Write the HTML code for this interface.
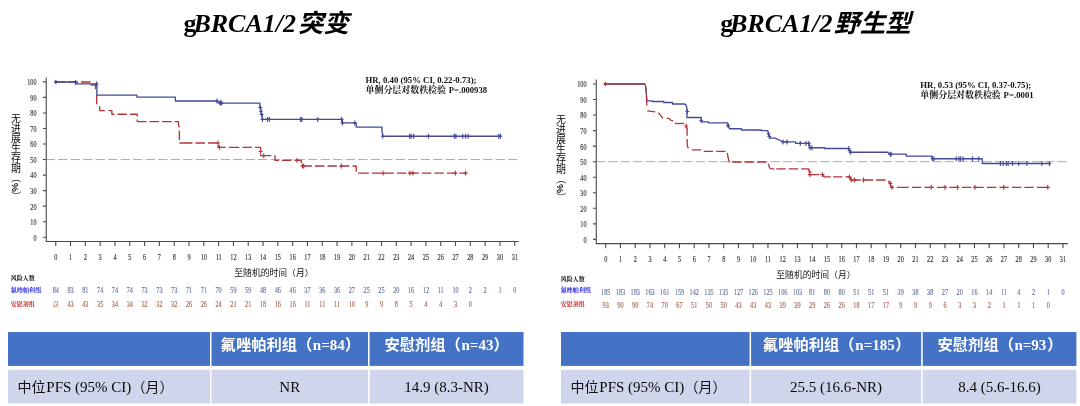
<!DOCTYPE html>
<html><head><meta charset="utf-8"><title>PFS</title>
<style>html,body{margin:0;padding:0;background:#fff;overflow:hidden}svg{display:block;will-change:transform}text{font-family:"Liberation Serif",serif;white-space:pre}</style></head>
<body>
<svg width="1080" height="406" viewBox="0 0 1080 406">
<rect width="1080" height="406" fill="#fff"/>
<path d="M45.60,159.55H517.50" stroke="#acacac" stroke-width="1" stroke-dasharray="9.4 3.1" fill="none"/>
<path d="M46.25,77.50V241.50H518.75M42.95,237.25H46.25M42.95,221.71H46.25M42.95,206.17H46.25M42.95,190.63H46.25M42.95,175.09H46.25M42.95,159.55H46.25M42.95,144.01H46.25M42.95,128.47H46.25M42.95,112.93H46.25M42.95,97.39H46.25M42.95,81.85H46.25M55.75,241.50V246.10M70.56,241.50V246.10M85.36,241.50V246.10M100.17,241.50V246.10M114.97,241.50V246.10M129.78,241.50V246.10M144.59,241.50V246.10M159.39,241.50V246.10M174.20,241.50V246.10M189.00,241.50V246.10M203.81,241.50V246.10M218.62,241.50V246.10M233.42,241.50V246.10M248.23,241.50V246.10M263.03,241.50V246.10M277.84,241.50V246.10M292.65,241.50V246.10M307.45,241.50V246.10M322.26,241.50V246.10M337.06,241.50V246.10M351.87,241.50V246.10M366.68,241.50V246.10M381.48,241.50V246.10M396.29,241.50V246.10M411.09,241.50V246.10M425.90,241.50V246.10M440.71,241.50V246.10M455.51,241.50V246.10M470.32,241.50V246.10M485.12,241.50V246.10M499.93,241.50V246.10M514.74,241.50V246.10" stroke="#4a4a4a" stroke-width="1.1" fill="none"/>
<text transform="translate(36.55,240.65) scale(0.78,1)" font-size="8" fill="#383838" text-anchor="end" stroke="#383838" stroke-width="0.16">0</text>
<text transform="translate(36.55,225.11) scale(0.78,1)" font-size="8" fill="#383838" text-anchor="end" stroke="#383838" stroke-width="0.16">10</text>
<text transform="translate(36.55,209.57) scale(0.78,1)" font-size="8" fill="#383838" text-anchor="end" stroke="#383838" stroke-width="0.16">20</text>
<text transform="translate(36.55,194.03) scale(0.78,1)" font-size="8" fill="#383838" text-anchor="end" stroke="#383838" stroke-width="0.16">30</text>
<text transform="translate(36.55,178.49) scale(0.78,1)" font-size="8" fill="#383838" text-anchor="end" stroke="#383838" stroke-width="0.16">40</text>
<text transform="translate(36.55,162.95) scale(0.78,1)" font-size="8" fill="#383838" text-anchor="end" stroke="#383838" stroke-width="0.16">50</text>
<text transform="translate(36.55,147.41) scale(0.78,1)" font-size="8" fill="#383838" text-anchor="end" stroke="#383838" stroke-width="0.16">60</text>
<text transform="translate(36.55,131.87) scale(0.78,1)" font-size="8" fill="#383838" text-anchor="end" stroke="#383838" stroke-width="0.16">70</text>
<text transform="translate(36.55,116.33) scale(0.78,1)" font-size="8" fill="#383838" text-anchor="end" stroke="#383838" stroke-width="0.16">80</text>
<text transform="translate(36.55,100.79) scale(0.78,1)" font-size="8" fill="#383838" text-anchor="end" stroke="#383838" stroke-width="0.16">90</text>
<text transform="translate(36.55,85.25) scale(0.78,1)" font-size="8" fill="#383838" text-anchor="end" stroke="#383838" stroke-width="0.16">100</text>
<text transform="translate(55.75,259.90) scale(0.78,1)" font-size="8" fill="#383838" text-anchor="middle" stroke="#383838" stroke-width="0.16">0</text>
<text transform="translate(70.56,259.90) scale(0.78,1)" font-size="8" fill="#383838" text-anchor="middle" stroke="#383838" stroke-width="0.16">1</text>
<text transform="translate(85.36,259.90) scale(0.78,1)" font-size="8" fill="#383838" text-anchor="middle" stroke="#383838" stroke-width="0.16">2</text>
<text transform="translate(100.17,259.90) scale(0.78,1)" font-size="8" fill="#383838" text-anchor="middle" stroke="#383838" stroke-width="0.16">3</text>
<text transform="translate(114.97,259.90) scale(0.78,1)" font-size="8" fill="#383838" text-anchor="middle" stroke="#383838" stroke-width="0.16">4</text>
<text transform="translate(129.78,259.90) scale(0.78,1)" font-size="8" fill="#383838" text-anchor="middle" stroke="#383838" stroke-width="0.16">5</text>
<text transform="translate(144.59,259.90) scale(0.78,1)" font-size="8" fill="#383838" text-anchor="middle" stroke="#383838" stroke-width="0.16">6</text>
<text transform="translate(159.39,259.90) scale(0.78,1)" font-size="8" fill="#383838" text-anchor="middle" stroke="#383838" stroke-width="0.16">7</text>
<text transform="translate(174.20,259.90) scale(0.78,1)" font-size="8" fill="#383838" text-anchor="middle" stroke="#383838" stroke-width="0.16">8</text>
<text transform="translate(189.00,259.90) scale(0.78,1)" font-size="8" fill="#383838" text-anchor="middle" stroke="#383838" stroke-width="0.16">9</text>
<text transform="translate(203.81,259.90) scale(0.78,1)" font-size="8" fill="#383838" text-anchor="middle" stroke="#383838" stroke-width="0.16">10</text>
<text transform="translate(218.62,259.90) scale(0.78,1)" font-size="8" fill="#383838" text-anchor="middle" stroke="#383838" stroke-width="0.16">11</text>
<text transform="translate(233.42,259.90) scale(0.78,1)" font-size="8" fill="#383838" text-anchor="middle" stroke="#383838" stroke-width="0.16">12</text>
<text transform="translate(248.23,259.90) scale(0.78,1)" font-size="8" fill="#383838" text-anchor="middle" stroke="#383838" stroke-width="0.16">13</text>
<text transform="translate(263.03,259.90) scale(0.78,1)" font-size="8" fill="#383838" text-anchor="middle" stroke="#383838" stroke-width="0.16">14</text>
<text transform="translate(277.84,259.90) scale(0.78,1)" font-size="8" fill="#383838" text-anchor="middle" stroke="#383838" stroke-width="0.16">15</text>
<text transform="translate(292.65,259.90) scale(0.78,1)" font-size="8" fill="#383838" text-anchor="middle" stroke="#383838" stroke-width="0.16">16</text>
<text transform="translate(307.45,259.90) scale(0.78,1)" font-size="8" fill="#383838" text-anchor="middle" stroke="#383838" stroke-width="0.16">17</text>
<text transform="translate(322.26,259.90) scale(0.78,1)" font-size="8" fill="#383838" text-anchor="middle" stroke="#383838" stroke-width="0.16">18</text>
<text transform="translate(337.06,259.90) scale(0.78,1)" font-size="8" fill="#383838" text-anchor="middle" stroke="#383838" stroke-width="0.16">19</text>
<text transform="translate(351.87,259.90) scale(0.78,1)" font-size="8" fill="#383838" text-anchor="middle" stroke="#383838" stroke-width="0.16">20</text>
<text transform="translate(366.68,259.90) scale(0.78,1)" font-size="8" fill="#383838" text-anchor="middle" stroke="#383838" stroke-width="0.16">21</text>
<text transform="translate(381.48,259.90) scale(0.78,1)" font-size="8" fill="#383838" text-anchor="middle" stroke="#383838" stroke-width="0.16">22</text>
<text transform="translate(396.29,259.90) scale(0.78,1)" font-size="8" fill="#383838" text-anchor="middle" stroke="#383838" stroke-width="0.16">23</text>
<text transform="translate(411.09,259.90) scale(0.78,1)" font-size="8" fill="#383838" text-anchor="middle" stroke="#383838" stroke-width="0.16">24</text>
<text transform="translate(425.90,259.90) scale(0.78,1)" font-size="8" fill="#383838" text-anchor="middle" stroke="#383838" stroke-width="0.16">25</text>
<text transform="translate(440.71,259.90) scale(0.78,1)" font-size="8" fill="#383838" text-anchor="middle" stroke="#383838" stroke-width="0.16">26</text>
<text transform="translate(455.51,259.90) scale(0.78,1)" font-size="8" fill="#383838" text-anchor="middle" stroke="#383838" stroke-width="0.16">27</text>
<text transform="translate(470.32,259.90) scale(0.78,1)" font-size="8" fill="#383838" text-anchor="middle" stroke="#383838" stroke-width="0.16">28</text>
<text transform="translate(485.12,259.90) scale(0.78,1)" font-size="8" fill="#383838" text-anchor="middle" stroke="#383838" stroke-width="0.16">29</text>
<text transform="translate(499.93,259.90) scale(0.78,1)" font-size="8" fill="#383838" text-anchor="middle" stroke="#383838" stroke-width="0.16">30</text>
<text transform="translate(514.74,259.90) scale(0.78,1)" font-size="8" fill="#383838" text-anchor="middle" stroke="#383838" stroke-width="0.16">31</text>
<g stroke="#b2353a" stroke-width="1.35" fill="none" stroke-dasharray="9.4 3.1" stroke-linejoin="round"><path d="M56,82H90.2V85H95.6V90H96.7V91.9"/><path d="M96.7,94.9V104.3"/><path d="M99.7,106.3V110.6H105.5"/><path d="M108.6,110.6H111.9V114.2H137.2V121.6"/><path d="M137.2,121.6H178.2L179.4,130V143H183.1"/><path d="M183.1,143H218.1V147.3H230"/><path d="M230,147.3H260.6V155.6H261.9"/><path d="M261.9,155.6H275V160.4H281.9"/><path d="M281.9,160.4H301.2V166H302.5"/><path d="M302.5,166H356.2V173.1H359.4"/><path d="M359.4,173.1H466"/></g>
<path d="M56,82H75.6V83.8H96.9V95.1H136.9V97.2H175.4V101H217.4V102.1H219.4V103.1H259.9V107.5H260.6V111.2H261.3V114.4H262.2V119.4H342.3V122.9H356.2V127.1H382V131L382.8,136.25H501.25" stroke="#434a98" stroke-width="1.3" fill="none" stroke-linejoin="round"/>
<path d="M75.50,79.90V84.90M96.60,81.30V86.30M217.00,98.50V103.50M220.00,100.60V105.60M220.80,100.60V105.60M221.60,100.60V105.60M260.30,105.00V110.00M261.00,108.70V113.70M261.60,111.90V116.90M262.50,116.90V121.90M267.50,116.90V121.90M269.40,116.90V121.90M300.60,116.90V121.90M301.90,116.90V121.90M317.75,116.90V121.90M341.60,116.90V121.90M342.50,120.40V125.40M354.75,120.40V125.40M382.80,133.75V138.75M409.75,133.75V138.75M411.00,133.75V138.75M413.50,133.75V138.75M428.40,133.75V138.75M454.40,133.75V138.75M455.90,133.75V138.75M462.75,133.75V138.75M465.60,133.75V138.75M468.10,133.75V138.75M498.75,133.75V138.75M500.40,133.75V138.75" stroke="#434a98" stroke-width="1.1" fill="none"/>
<path d="M73.60,82.40H77.40M94.70,83.80H98.50M215.10,101.00H218.90M218.10,103.10H221.90M218.90,103.10H222.70M219.70,103.10H223.50M258.40,107.50H262.20M259.10,111.20H262.90M259.70,114.40H263.50M260.60,119.40H264.40M265.60,119.40H269.40M267.50,119.40H271.30M298.70,119.40H302.50M300.00,119.40H303.80M315.85,119.40H319.65M339.70,119.40H343.50M340.60,122.90H344.40M352.85,122.90H356.65M380.90,136.25H384.70M407.85,136.25H411.65M409.10,136.25H412.90M411.60,136.25H415.40M426.50,136.25H430.30M452.50,136.25H456.30M454.00,136.25H457.80M460.85,136.25H464.65M463.70,136.25H467.50M466.20,136.25H470.00M496.85,136.25H500.65M498.50,136.25H502.30" stroke="#434a98" stroke-width="1.1" fill="none"/>
<path d="M218.00,140.60V145.40M219.40,144.90V149.70M260.60,149.10V153.90M263.75,153.20V158.00M297.00,158.00V162.80M302.50,163.60V168.40M303.75,163.60V168.40M341.25,163.60V168.40M383.10,170.70V175.50M410.00,170.70V175.50M412.90,170.70V175.50M455.40,170.70V175.50M465.60,170.70V175.50" stroke="#b2353a" stroke-width="1.1" fill="none"/>
<path d="M216.00,143.00H220.00M217.40,147.30H221.40M258.60,151.50H262.60M261.75,155.60H265.75M295.00,160.40H299.00M300.50,166.00H304.50M301.75,166.00H305.75M339.25,166.00H343.25M381.10,173.10H385.10M408.00,173.10H412.00M410.90,173.10H414.90M453.40,173.10H457.40M463.60,173.10H467.60" stroke="#b2353a" stroke-width="1.2" fill="none"/>
<path d="M53.80,82.00L56.00,79.40L57.20,82.00L56.00,84.60Z" fill="#3d4c9f"/>
<text transform="translate(55.75,292.70) scale(0.78,1)" font-size="8" fill="#66729d" text-anchor="middle" stroke="#66729d" stroke-width="0.15">84</text>
<text transform="translate(70.56,292.70) scale(0.78,1)" font-size="8" fill="#66729d" text-anchor="middle" stroke="#66729d" stroke-width="0.15">83</text>
<text transform="translate(85.36,292.70) scale(0.78,1)" font-size="8" fill="#66729d" text-anchor="middle" stroke="#66729d" stroke-width="0.15">81</text>
<text transform="translate(100.17,292.70) scale(0.78,1)" font-size="8" fill="#66729d" text-anchor="middle" stroke="#66729d" stroke-width="0.15">74</text>
<text transform="translate(114.97,292.70) scale(0.78,1)" font-size="8" fill="#66729d" text-anchor="middle" stroke="#66729d" stroke-width="0.15">74</text>
<text transform="translate(129.78,292.70) scale(0.78,1)" font-size="8" fill="#66729d" text-anchor="middle" stroke="#66729d" stroke-width="0.15">74</text>
<text transform="translate(144.59,292.70) scale(0.78,1)" font-size="8" fill="#66729d" text-anchor="middle" stroke="#66729d" stroke-width="0.15">73</text>
<text transform="translate(159.39,292.70) scale(0.78,1)" font-size="8" fill="#66729d" text-anchor="middle" stroke="#66729d" stroke-width="0.15">73</text>
<text transform="translate(174.20,292.70) scale(0.78,1)" font-size="8" fill="#66729d" text-anchor="middle" stroke="#66729d" stroke-width="0.15">73</text>
<text transform="translate(189.00,292.70) scale(0.78,1)" font-size="8" fill="#66729d" text-anchor="middle" stroke="#66729d" stroke-width="0.15">71</text>
<text transform="translate(203.81,292.70) scale(0.78,1)" font-size="8" fill="#66729d" text-anchor="middle" stroke="#66729d" stroke-width="0.15">71</text>
<text transform="translate(218.62,292.70) scale(0.78,1)" font-size="8" fill="#66729d" text-anchor="middle" stroke="#66729d" stroke-width="0.15">70</text>
<text transform="translate(233.42,292.70) scale(0.78,1)" font-size="8" fill="#66729d" text-anchor="middle" stroke="#66729d" stroke-width="0.15">59</text>
<text transform="translate(248.23,292.70) scale(0.78,1)" font-size="8" fill="#66729d" text-anchor="middle" stroke="#66729d" stroke-width="0.15">59</text>
<text transform="translate(263.03,292.70) scale(0.78,1)" font-size="8" fill="#66729d" text-anchor="middle" stroke="#66729d" stroke-width="0.15">48</text>
<text transform="translate(277.84,292.70) scale(0.78,1)" font-size="8" fill="#66729d" text-anchor="middle" stroke="#66729d" stroke-width="0.15">46</text>
<text transform="translate(292.65,292.70) scale(0.78,1)" font-size="8" fill="#66729d" text-anchor="middle" stroke="#66729d" stroke-width="0.15">46</text>
<text transform="translate(307.45,292.70) scale(0.78,1)" font-size="8" fill="#66729d" text-anchor="middle" stroke="#66729d" stroke-width="0.15">37</text>
<text transform="translate(322.26,292.70) scale(0.78,1)" font-size="8" fill="#66729d" text-anchor="middle" stroke="#66729d" stroke-width="0.15">36</text>
<text transform="translate(337.06,292.70) scale(0.78,1)" font-size="8" fill="#66729d" text-anchor="middle" stroke="#66729d" stroke-width="0.15">36</text>
<text transform="translate(351.87,292.70) scale(0.78,1)" font-size="8" fill="#66729d" text-anchor="middle" stroke="#66729d" stroke-width="0.15">27</text>
<text transform="translate(366.68,292.70) scale(0.78,1)" font-size="8" fill="#66729d" text-anchor="middle" stroke="#66729d" stroke-width="0.15">25</text>
<text transform="translate(381.48,292.70) scale(0.78,1)" font-size="8" fill="#66729d" text-anchor="middle" stroke="#66729d" stroke-width="0.15">25</text>
<text transform="translate(396.29,292.70) scale(0.78,1)" font-size="8" fill="#66729d" text-anchor="middle" stroke="#66729d" stroke-width="0.15">20</text>
<text transform="translate(411.09,292.70) scale(0.78,1)" font-size="8" fill="#66729d" text-anchor="middle" stroke="#66729d" stroke-width="0.15">16</text>
<text transform="translate(425.90,292.70) scale(0.78,1)" font-size="8" fill="#66729d" text-anchor="middle" stroke="#66729d" stroke-width="0.15">12</text>
<text transform="translate(440.71,292.70) scale(0.78,1)" font-size="8" fill="#66729d" text-anchor="middle" stroke="#66729d" stroke-width="0.15">11</text>
<text transform="translate(455.51,292.70) scale(0.78,1)" font-size="8" fill="#66729d" text-anchor="middle" stroke="#66729d" stroke-width="0.15">10</text>
<text transform="translate(470.32,292.70) scale(0.78,1)" font-size="8" fill="#66729d" text-anchor="middle" stroke="#66729d" stroke-width="0.15">2</text>
<text transform="translate(485.12,292.70) scale(0.78,1)" font-size="8" fill="#66729d" text-anchor="middle" stroke="#66729d" stroke-width="0.15">2</text>
<text transform="translate(499.93,292.70) scale(0.78,1)" font-size="8" fill="#66729d" text-anchor="middle" stroke="#66729d" stroke-width="0.15">1</text>
<text transform="translate(514.74,292.70) scale(0.78,1)" font-size="8" fill="#66729d" text-anchor="middle" stroke="#66729d" stroke-width="0.15">0</text>
<text transform="translate(55.75,306.70) scale(0.78,1)" font-size="8" fill="#a86355" text-anchor="middle" stroke="#a86355" stroke-width="0.15">i3</text>
<text transform="translate(70.56,306.70) scale(0.78,1)" font-size="8" fill="#a86355" text-anchor="middle" stroke="#a86355" stroke-width="0.15">43</text>
<text transform="translate(85.36,306.70) scale(0.78,1)" font-size="8" fill="#a86355" text-anchor="middle" stroke="#a86355" stroke-width="0.15">43</text>
<text transform="translate(100.17,306.70) scale(0.78,1)" font-size="8" fill="#a86355" text-anchor="middle" stroke="#a86355" stroke-width="0.15">35</text>
<text transform="translate(114.97,306.70) scale(0.78,1)" font-size="8" fill="#a86355" text-anchor="middle" stroke="#a86355" stroke-width="0.15">34</text>
<text transform="translate(129.78,306.70) scale(0.78,1)" font-size="8" fill="#a86355" text-anchor="middle" stroke="#a86355" stroke-width="0.15">34</text>
<text transform="translate(144.59,306.70) scale(0.78,1)" font-size="8" fill="#a86355" text-anchor="middle" stroke="#a86355" stroke-width="0.15">32</text>
<text transform="translate(159.39,306.70) scale(0.78,1)" font-size="8" fill="#a86355" text-anchor="middle" stroke="#a86355" stroke-width="0.15">32</text>
<text transform="translate(174.20,306.70) scale(0.78,1)" font-size="8" fill="#a86355" text-anchor="middle" stroke="#a86355" stroke-width="0.15">32</text>
<text transform="translate(189.00,306.70) scale(0.78,1)" font-size="8" fill="#a86355" text-anchor="middle" stroke="#a86355" stroke-width="0.15">26</text>
<text transform="translate(203.81,306.70) scale(0.78,1)" font-size="8" fill="#a86355" text-anchor="middle" stroke="#a86355" stroke-width="0.15">26</text>
<text transform="translate(218.62,306.70) scale(0.78,1)" font-size="8" fill="#a86355" text-anchor="middle" stroke="#a86355" stroke-width="0.15">24</text>
<text transform="translate(233.42,306.70) scale(0.78,1)" font-size="8" fill="#a86355" text-anchor="middle" stroke="#a86355" stroke-width="0.15">21</text>
<text transform="translate(248.23,306.70) scale(0.78,1)" font-size="8" fill="#a86355" text-anchor="middle" stroke="#a86355" stroke-width="0.15">21</text>
<text transform="translate(263.03,306.70) scale(0.78,1)" font-size="8" fill="#a86355" text-anchor="middle" stroke="#a86355" stroke-width="0.15">18</text>
<text transform="translate(277.84,306.70) scale(0.78,1)" font-size="8" fill="#a86355" text-anchor="middle" stroke="#a86355" stroke-width="0.15">16</text>
<text transform="translate(292.65,306.70) scale(0.78,1)" font-size="8" fill="#a86355" text-anchor="middle" stroke="#a86355" stroke-width="0.15">16</text>
<text transform="translate(307.45,306.70) scale(0.78,1)" font-size="8" fill="#a86355" text-anchor="middle" stroke="#a86355" stroke-width="0.15">11</text>
<text transform="translate(322.26,306.70) scale(0.78,1)" font-size="8" fill="#a86355" text-anchor="middle" stroke="#a86355" stroke-width="0.15">11</text>
<text transform="translate(337.06,306.70) scale(0.78,1)" font-size="8" fill="#a86355" text-anchor="middle" stroke="#a86355" stroke-width="0.15">11</text>
<text transform="translate(351.87,306.70) scale(0.78,1)" font-size="8" fill="#a86355" text-anchor="middle" stroke="#a86355" stroke-width="0.15">10</text>
<text transform="translate(366.68,306.70) scale(0.78,1)" font-size="8" fill="#a86355" text-anchor="middle" stroke="#a86355" stroke-width="0.15">9</text>
<text transform="translate(381.48,306.70) scale(0.78,1)" font-size="8" fill="#a86355" text-anchor="middle" stroke="#a86355" stroke-width="0.15">9</text>
<text transform="translate(396.29,306.70) scale(0.78,1)" font-size="8" fill="#a86355" text-anchor="middle" stroke="#a86355" stroke-width="0.15">8</text>
<text transform="translate(411.09,306.70) scale(0.78,1)" font-size="8" fill="#a86355" text-anchor="middle" stroke="#a86355" stroke-width="0.15">5</text>
<text transform="translate(425.90,306.70) scale(0.78,1)" font-size="8" fill="#a86355" text-anchor="middle" stroke="#a86355" stroke-width="0.15">4</text>
<text transform="translate(440.71,306.70) scale(0.78,1)" font-size="8" fill="#a86355" text-anchor="middle" stroke="#a86355" stroke-width="0.15">4</text>
<text transform="translate(455.51,306.70) scale(0.78,1)" font-size="8" fill="#a86355" text-anchor="middle" stroke="#a86355" stroke-width="0.15">3</text>
<text transform="translate(470.32,306.70) scale(0.78,1)" font-size="8" fill="#a86355" text-anchor="middle" stroke="#a86355" stroke-width="0.15">0</text>
<text x="183.60" y="31.80" font-size="26" fill="#000" font-weight="bold" >g</text>
<text x="193.40" y="31.80" font-size="26" fill="#000" font-weight="bold" font-style="italic" >BRCA1/2</text>
<text x="298" y="31.8" font-size="25" fill="#000" font-weight="bold" font-style="italic" textLength="51" lengthAdjust="spacingAndGlyphs" style="font-family:'Liberation Sans','Noto Sans CJK SC',sans-serif">突变</text>
<text x="365.50" y="82.60" font-size="8.6" fill="#111" font-weight="bold" textLength="111" lengthAdjust="spacingAndGlyphs" >HR, 0.40 (95% CI, 0.22-0.73);</text>
<text x="365.5" y="92.6" font-size="8.9" fill="#111" font-weight="bold" textLength="80.5" lengthAdjust="spacingAndGlyphs" style="font-family:'Liberation Serif','Noto Serif CJK SC',serif">单侧分层对数秩检验</text>
<text x="448.83" y="92.60" font-size="8.6" fill="#111" font-weight="bold" textLength="38.2" lengthAdjust="spacingAndGlyphs" >P=.000938</text>
<text x="11" y="121.8" font-size="9.9" fill="#0a0a0a" style="font-family:'Liberation Sans','Noto Sans CJK SC',sans-serif">无</text>
<text x="11" y="131.8" font-size="9.9" fill="#0a0a0a" style="font-family:'Liberation Sans','Noto Sans CJK SC',sans-serif">进</text>
<text x="11" y="141.8" font-size="9.9" fill="#0a0a0a" style="font-family:'Liberation Sans','Noto Sans CJK SC',sans-serif">展</text>
<text x="11" y="151.7" font-size="9.9" fill="#0a0a0a" style="font-family:'Liberation Sans','Noto Sans CJK SC',sans-serif">生</text>
<text x="11" y="161.7" font-size="9.9" fill="#0a0a0a" style="font-family:'Liberation Sans','Noto Sans CJK SC',sans-serif">存</text>
<text x="11" y="171.7" font-size="9.9" fill="#0a0a0a" style="font-family:'Liberation Sans','Noto Sans CJK SC',sans-serif">期</text>
<text transform="translate(11.90,172.70) rotate(90)" font-size="10" fill="#111" style="font-family:'Liberation Sans','Noto Sans CJK SC',sans-serif">（</text>
<text transform="translate(12.00,183.00) rotate(90)" font-size="9.9" fill="#111" stroke="#111" stroke-width="0.25" style="font-family:'Liberation Sans',sans-serif">%</text>
<text transform="translate(11.90,191.00) rotate(90)" font-size="10" fill="#111" style="font-family:'Liberation Sans','Noto Sans CJK SC',sans-serif">）</text>
<text x="234.3" y="276.1" font-size="8.8" fill="#111" textLength="79.2" lengthAdjust="spacingAndGlyphs" style="font-family:'Liberation Sans','Noto Sans CJK SC',sans-serif">至随机的时间（月）</text>
<text x="10.8" y="280.3" font-size="6" fill="#000" font-weight="bold" style="font-family:'Liberation Serif','Noto Serif CJK SC',serif">风险人数</text>
<text x="10.8" y="292.1" font-size="6.1" fill="#2020e0" font-weight="bold" style="font-family:'Liberation Serif','Noto Serif CJK SC',serif">氟唑帕利组</text>
<text x="10.8" y="305.6" font-size="6" fill="#d02020" font-weight="bold" style="font-family:'Liberation Serif','Noto Serif CJK SC',serif">安慰剂组</text>
<rect x="8" y="332" width="202.00" height="33.9" fill="#4472c4"/>
<rect x="8" y="369.8" width="202.00" height="33.7" fill="#cfd5ea"/>
<rect x="211.5" y="332" width="156.50" height="33.9" fill="#4472c4"/>
<rect x="211.5" y="369.8" width="156.50" height="33.7" fill="#cfd5ea"/>
<rect x="369.6" y="332" width="153.90" height="33.9" fill="#4472c4"/>
<rect x="369.6" y="369.8" width="153.90" height="33.7" fill="#cfd5ea"/>
<text x="17.6" y="391.6" font-size="14" fill="#111" style="font-family:'Liberation Sans','Noto Sans CJK SC',sans-serif">中位</text>
<text x="46.30" y="391.60" font-size="15" fill="#0a0a0a" >PFS (95% CI)</text>
<text x="131.4" y="391.6" font-size="14" fill="#111" style="font-family:'Liberation Sans','Noto Sans CJK SC',sans-serif">（月）</text>
<text x="220.6" y="349.8" font-size="15.3" fill="#fff" font-weight="bold" style="font-family:'Liberation Sans','Noto Sans CJK SC',sans-serif">氟唑帕利组（</text>
<text x="312.80" y="349.80" font-size="15" fill="#fff" font-weight="bold" >n=84</text>
<text x="345" y="349.8" font-size="15.3" fill="#fff" font-weight="bold" style="font-family:'Liberation Sans','Noto Sans CJK SC',sans-serif">）</text>
<text x="384.4" y="349.8" font-size="15.3" fill="#fff" font-weight="bold" style="font-family:'Liberation Sans','Noto Sans CJK SC',sans-serif">安慰剂组（</text>
<text x="461.50" y="349.80" font-size="15" fill="#fff" font-weight="bold" >n=43</text>
<text x="493.6" y="349.8" font-size="15.3" fill="#fff" font-weight="bold" style="font-family:'Liberation Sans','Noto Sans CJK SC',sans-serif">）</text>
<text x="289.75" y="391.60" font-size="15" fill="#0a0a0a" text-anchor="middle" >NR</text>
<text x="446.55" y="391.60" font-size="15" fill="#0a0a0a" text-anchor="middle" >14.9 (8.3-NR)</text>
<path d="M595.90,161.68H1067.00" stroke="#acacac" stroke-width="1" stroke-dasharray="9.37 3.1" fill="none"/>
<path d="M596.25,79.40V243.60H1067.90M592.95,239.40H596.25M592.95,223.86H596.25M592.95,208.31H596.25M592.95,192.77H596.25M592.95,177.22H596.25M592.95,161.68H596.25M592.95,146.13H596.25M592.95,130.59H596.25M592.95,115.04H596.25M592.95,99.50H596.25M592.95,83.95H596.25M605.70,243.60V248.20M620.45,243.60V248.20M635.20,243.60V248.20M649.95,243.60V248.20M664.70,243.60V248.20M679.45,243.60V248.20M694.20,243.60V248.20M708.95,243.60V248.20M723.70,243.60V248.20M738.45,243.60V248.20M753.20,243.60V248.20M767.95,243.60V248.20M782.70,243.60V248.20M797.45,243.60V248.20M812.20,243.60V248.20M826.95,243.60V248.20M841.70,243.60V248.20M856.45,243.60V248.20M871.20,243.60V248.20M885.95,243.60V248.20M900.70,243.60V248.20M915.45,243.60V248.20M930.20,243.60V248.20M944.95,243.60V248.20M959.70,243.60V248.20M974.45,243.60V248.20M989.20,243.60V248.20M1003.95,243.60V248.20M1018.70,243.60V248.20M1033.45,243.60V248.20M1048.20,243.60V248.20M1062.95,243.60V248.20" stroke="#4a4a4a" stroke-width="1.1" fill="none"/>
<text transform="translate(586.55,242.80) scale(0.78,1)" font-size="8" fill="#383838" text-anchor="end" stroke="#383838" stroke-width="0.16">0</text>
<text transform="translate(586.55,227.25) scale(0.78,1)" font-size="8" fill="#383838" text-anchor="end" stroke="#383838" stroke-width="0.16">10</text>
<text transform="translate(586.55,211.71) scale(0.78,1)" font-size="8" fill="#383838" text-anchor="end" stroke="#383838" stroke-width="0.16">20</text>
<text transform="translate(586.55,196.16) scale(0.78,1)" font-size="8" fill="#383838" text-anchor="end" stroke="#383838" stroke-width="0.16">30</text>
<text transform="translate(586.55,180.62) scale(0.78,1)" font-size="8" fill="#383838" text-anchor="end" stroke="#383838" stroke-width="0.16">40</text>
<text transform="translate(586.55,165.07) scale(0.78,1)" font-size="8" fill="#383838" text-anchor="end" stroke="#383838" stroke-width="0.16">50</text>
<text transform="translate(586.55,149.53) scale(0.78,1)" font-size="8" fill="#383838" text-anchor="end" stroke="#383838" stroke-width="0.16">60</text>
<text transform="translate(586.55,133.98) scale(0.78,1)" font-size="8" fill="#383838" text-anchor="end" stroke="#383838" stroke-width="0.16">70</text>
<text transform="translate(586.55,118.44) scale(0.78,1)" font-size="8" fill="#383838" text-anchor="end" stroke="#383838" stroke-width="0.16">80</text>
<text transform="translate(586.55,102.90) scale(0.78,1)" font-size="8" fill="#383838" text-anchor="end" stroke="#383838" stroke-width="0.16">90</text>
<text transform="translate(586.55,87.35) scale(0.78,1)" font-size="8" fill="#383838" text-anchor="end" stroke="#383838" stroke-width="0.16">100</text>
<text transform="translate(605.70,262.00) scale(0.78,1)" font-size="8" fill="#383838" text-anchor="middle" stroke="#383838" stroke-width="0.16">0</text>
<text transform="translate(620.45,262.00) scale(0.78,1)" font-size="8" fill="#383838" text-anchor="middle" stroke="#383838" stroke-width="0.16">1</text>
<text transform="translate(635.20,262.00) scale(0.78,1)" font-size="8" fill="#383838" text-anchor="middle" stroke="#383838" stroke-width="0.16">2</text>
<text transform="translate(649.95,262.00) scale(0.78,1)" font-size="8" fill="#383838" text-anchor="middle" stroke="#383838" stroke-width="0.16">3</text>
<text transform="translate(664.70,262.00) scale(0.78,1)" font-size="8" fill="#383838" text-anchor="middle" stroke="#383838" stroke-width="0.16">4</text>
<text transform="translate(679.45,262.00) scale(0.78,1)" font-size="8" fill="#383838" text-anchor="middle" stroke="#383838" stroke-width="0.16">5</text>
<text transform="translate(694.20,262.00) scale(0.78,1)" font-size="8" fill="#383838" text-anchor="middle" stroke="#383838" stroke-width="0.16">6</text>
<text transform="translate(708.95,262.00) scale(0.78,1)" font-size="8" fill="#383838" text-anchor="middle" stroke="#383838" stroke-width="0.16">7</text>
<text transform="translate(723.70,262.00) scale(0.78,1)" font-size="8" fill="#383838" text-anchor="middle" stroke="#383838" stroke-width="0.16">8</text>
<text transform="translate(738.45,262.00) scale(0.78,1)" font-size="8" fill="#383838" text-anchor="middle" stroke="#383838" stroke-width="0.16">9</text>
<text transform="translate(753.20,262.00) scale(0.78,1)" font-size="8" fill="#383838" text-anchor="middle" stroke="#383838" stroke-width="0.16">10</text>
<text transform="translate(767.95,262.00) scale(0.78,1)" font-size="8" fill="#383838" text-anchor="middle" stroke="#383838" stroke-width="0.16">11</text>
<text transform="translate(782.70,262.00) scale(0.78,1)" font-size="8" fill="#383838" text-anchor="middle" stroke="#383838" stroke-width="0.16">12</text>
<text transform="translate(797.45,262.00) scale(0.78,1)" font-size="8" fill="#383838" text-anchor="middle" stroke="#383838" stroke-width="0.16">13</text>
<text transform="translate(812.20,262.00) scale(0.78,1)" font-size="8" fill="#383838" text-anchor="middle" stroke="#383838" stroke-width="0.16">14</text>
<text transform="translate(826.95,262.00) scale(0.78,1)" font-size="8" fill="#383838" text-anchor="middle" stroke="#383838" stroke-width="0.16">15</text>
<text transform="translate(841.70,262.00) scale(0.78,1)" font-size="8" fill="#383838" text-anchor="middle" stroke="#383838" stroke-width="0.16">16</text>
<text transform="translate(856.45,262.00) scale(0.78,1)" font-size="8" fill="#383838" text-anchor="middle" stroke="#383838" stroke-width="0.16">17</text>
<text transform="translate(871.20,262.00) scale(0.78,1)" font-size="8" fill="#383838" text-anchor="middle" stroke="#383838" stroke-width="0.16">18</text>
<text transform="translate(885.95,262.00) scale(0.78,1)" font-size="8" fill="#383838" text-anchor="middle" stroke="#383838" stroke-width="0.16">19</text>
<text transform="translate(900.70,262.00) scale(0.78,1)" font-size="8" fill="#383838" text-anchor="middle" stroke="#383838" stroke-width="0.16">20</text>
<text transform="translate(915.45,262.00) scale(0.78,1)" font-size="8" fill="#383838" text-anchor="middle" stroke="#383838" stroke-width="0.16">21</text>
<text transform="translate(930.20,262.00) scale(0.78,1)" font-size="8" fill="#383838" text-anchor="middle" stroke="#383838" stroke-width="0.16">22</text>
<text transform="translate(944.95,262.00) scale(0.78,1)" font-size="8" fill="#383838" text-anchor="middle" stroke="#383838" stroke-width="0.16">23</text>
<text transform="translate(959.70,262.00) scale(0.78,1)" font-size="8" fill="#383838" text-anchor="middle" stroke="#383838" stroke-width="0.16">24</text>
<text transform="translate(974.45,262.00) scale(0.78,1)" font-size="8" fill="#383838" text-anchor="middle" stroke="#383838" stroke-width="0.16">25</text>
<text transform="translate(989.20,262.00) scale(0.78,1)" font-size="8" fill="#383838" text-anchor="middle" stroke="#383838" stroke-width="0.16">26</text>
<text transform="translate(1003.95,262.00) scale(0.78,1)" font-size="8" fill="#383838" text-anchor="middle" stroke="#383838" stroke-width="0.16">27</text>
<text transform="translate(1018.70,262.00) scale(0.78,1)" font-size="8" fill="#383838" text-anchor="middle" stroke="#383838" stroke-width="0.16">28</text>
<text transform="translate(1033.45,262.00) scale(0.78,1)" font-size="8" fill="#383838" text-anchor="middle" stroke="#383838" stroke-width="0.16">29</text>
<text transform="translate(1048.20,262.00) scale(0.78,1)" font-size="8" fill="#383838" text-anchor="middle" stroke="#383838" stroke-width="0.16">30</text>
<text transform="translate(1062.95,262.00) scale(0.78,1)" font-size="8" fill="#383838" text-anchor="middle" stroke="#383838" stroke-width="0.16">31</text>
<path d="M605.6,84H644.4C645.6,84.1 646,88 646.3,93L646.9,100.8H652.5V101.5H663.75V102.5H672.5V104H684.4C686,104.3 686.7,106 686.9,109V117.5H701.25V121.9H708.5V122.9H727.5L729.4,128.75H741.5V130H761.5V130.7H767.7L769.8,138.1H775L778.75,139.75L783.1,141.9H795.6V143.4H809.4V147.75H824.4V148.5H848.75L850.6,152.25H887.8L889.4,154.2H906.25V156.1H931.9V158.75H982.25V163.5H1050.6" stroke="#434a98" stroke-width="1.3" fill="none" stroke-linejoin="round"/>
<g stroke="#b2353a" stroke-width="1.35" fill="none" stroke-dasharray="9.4 3.1" stroke-linejoin="round"><path d="M644.4,84C645.8,84.2 646.2,90 646.4,96L646.8,105.5"/><path d="M647.3,110.9L655.2,111.9"/><path d="M658.4,112.6L662.9,118.3"/><path d="M666.7,118.3H669L670.5,120.2L673.1,120.9"/><path d="M675,123.5H684"/><path d="M686,126.8L687.1,128V136.4"/><path d="M687.15,139V144C687.4,147.5 688.2,148.4 689.4,148.6"/><path d="M691.9,149.8H701.6L702.8,151.3H727L728.2,158L729.4,162H731.9"/><path d="M731.9,162H767.5L768.8,165C769.2,168 770,168.9 771.4,168.9H776.25"/><path d="M776.25,168.9H808.6L809.7,174.6H810"/><path d="M810,174.6H822.6L824.4,176.9H833.1"/><path d="M833.1,176.9H849.4L851.2,180"/><path d="M851.2,180H887.6L889.8,183.5L891.5,187.4H899.4"/><path d="M899.4,187.4H1048"/></g>
<path d="M605.6,84H644.4" stroke="#b84040" stroke-width="1.4" fill="none"/>
<path d="M605.6,84H644.4" stroke="#434a98" stroke-width="0.7" stroke-opacity="0.55" fill="none"/>
<path d="M687.30,109.00V114.00M701.25,118.00V123.00M728.00,123.10V128.10M768.50,131.50V136.50M769.30,134.00V139.00M783.00,139.40V144.40M786.90,139.40V144.40M800.25,140.90V145.90M806.00,140.90V145.90M808.75,140.90V145.90M810.00,145.25V150.25M811.90,145.25V150.25M848.75,146.00V151.00M849.50,148.00V153.00M850.60,149.75V154.75M890.20,151.70V156.70M891.00,151.70V156.70M932.50,156.25V161.25M934.00,156.25V161.25M956.25,156.25V161.25M959.00,156.25V161.25M960.60,156.25V161.25M963.10,156.25V161.25M972.50,156.25V161.25M978.75,156.25V161.25M1000.40,161.00V166.00M1003.10,161.00V166.00M1006.25,161.00V166.00M1008.10,161.00V166.00M1012.50,161.00V166.00M1018.75,161.00V166.00M1026.90,161.00V166.00M1041.90,161.00V166.00M1049.40,161.00V166.00" stroke="#434a98" stroke-width="1.1" fill="none"/>
<path d="M685.40,111.50H689.20M699.35,120.50H703.15M726.10,125.60H729.90M766.60,134.00H770.40M767.40,136.50H771.20M781.10,141.90H784.90M785.00,141.90H788.80M798.35,143.40H802.15M804.10,143.40H807.90M806.85,143.40H810.65M808.10,147.75H811.90M810.00,147.75H813.80M846.85,148.50H850.65M847.60,150.50H851.40M848.70,152.25H852.50M888.30,154.20H892.10M889.10,154.20H892.90M930.60,158.75H934.40M932.10,158.75H935.90M954.35,158.75H958.15M957.10,158.75H960.90M958.70,158.75H962.50M961.20,158.75H965.00M970.60,158.75H974.40M976.85,158.75H980.65M998.50,163.50H1002.30M1001.20,163.50H1005.00M1004.35,163.50H1008.15M1006.20,163.50H1010.00M1010.60,163.50H1014.40M1016.85,163.50H1020.65M1025.00,163.50H1028.80M1040.00,163.50H1043.80M1047.50,163.50H1051.30" stroke="#434a98" stroke-width="1.1" fill="none"/>
<path d="M686.20,123.60V128.40M809.75,169.60V174.40M809.90,172.20V177.00M822.50,172.20V177.00M849.40,174.50V179.30M851.25,177.60V182.40M854.40,177.60V182.40M863.40,177.60V182.40M890.40,181.10V185.90M891.90,185.00V189.80M931.25,185.00V189.80M945.00,185.00V189.80M957.50,185.00V189.80M975.00,185.00V189.80M1003.75,185.00V189.80M1047.75,185.00V189.80" stroke="#b2353a" stroke-width="1.1" fill="none"/>
<path d="M684.20,126.00H688.20M807.75,172.00H811.75M807.90,174.60H811.90M820.50,174.60H824.50M847.40,176.90H851.40M849.25,180.00H853.25M852.40,180.00H856.40M861.40,180.00H865.40M888.40,183.50H892.40M889.90,187.40H893.90M929.25,187.40H933.25M943.00,187.40H947.00M955.50,187.40H959.50M973.00,187.40H977.00M1001.75,187.40H1005.75M1045.75,187.40H1049.75" stroke="#b2353a" stroke-width="1.2" fill="none"/>
<path d="M603.40,84.00L605.60,81.40L606.80,84.00L605.60,86.60Z" fill="#b23333"/>
<text transform="translate(605.70,294.50) scale(0.78,1)" font-size="8" fill="#66729d" text-anchor="middle" stroke="#66729d" stroke-width="0.15">185</text>
<text transform="translate(620.45,294.50) scale(0.78,1)" font-size="8" fill="#66729d" text-anchor="middle" stroke="#66729d" stroke-width="0.15">183</text>
<text transform="translate(635.20,294.50) scale(0.78,1)" font-size="8" fill="#66729d" text-anchor="middle" stroke="#66729d" stroke-width="0.15">183</text>
<text transform="translate(649.95,294.50) scale(0.78,1)" font-size="8" fill="#66729d" text-anchor="middle" stroke="#66729d" stroke-width="0.15">163</text>
<text transform="translate(664.70,294.50) scale(0.78,1)" font-size="8" fill="#66729d" text-anchor="middle" stroke="#66729d" stroke-width="0.15">161</text>
<text transform="translate(679.45,294.50) scale(0.78,1)" font-size="8" fill="#66729d" text-anchor="middle" stroke="#66729d" stroke-width="0.15">159</text>
<text transform="translate(694.20,294.50) scale(0.78,1)" font-size="8" fill="#66729d" text-anchor="middle" stroke="#66729d" stroke-width="0.15">142</text>
<text transform="translate(708.95,294.50) scale(0.78,1)" font-size="8" fill="#66729d" text-anchor="middle" stroke="#66729d" stroke-width="0.15">135</text>
<text transform="translate(723.70,294.50) scale(0.78,1)" font-size="8" fill="#66729d" text-anchor="middle" stroke="#66729d" stroke-width="0.15">135</text>
<text transform="translate(738.45,294.50) scale(0.78,1)" font-size="8" fill="#66729d" text-anchor="middle" stroke="#66729d" stroke-width="0.15">127</text>
<text transform="translate(753.20,294.50) scale(0.78,1)" font-size="8" fill="#66729d" text-anchor="middle" stroke="#66729d" stroke-width="0.15">126</text>
<text transform="translate(767.95,294.50) scale(0.78,1)" font-size="8" fill="#66729d" text-anchor="middle" stroke="#66729d" stroke-width="0.15">125</text>
<text transform="translate(782.70,294.50) scale(0.78,1)" font-size="8" fill="#66729d" text-anchor="middle" stroke="#66729d" stroke-width="0.15">106</text>
<text transform="translate(797.45,294.50) scale(0.78,1)" font-size="8" fill="#66729d" text-anchor="middle" stroke="#66729d" stroke-width="0.15">103</text>
<text transform="translate(812.20,294.50) scale(0.78,1)" font-size="8" fill="#66729d" text-anchor="middle" stroke="#66729d" stroke-width="0.15">81</text>
<text transform="translate(826.95,294.50) scale(0.78,1)" font-size="8" fill="#66729d" text-anchor="middle" stroke="#66729d" stroke-width="0.15">80</text>
<text transform="translate(841.70,294.50) scale(0.78,1)" font-size="8" fill="#66729d" text-anchor="middle" stroke="#66729d" stroke-width="0.15">80</text>
<text transform="translate(856.45,294.50) scale(0.78,1)" font-size="8" fill="#66729d" text-anchor="middle" stroke="#66729d" stroke-width="0.15">51</text>
<text transform="translate(871.20,294.50) scale(0.78,1)" font-size="8" fill="#66729d" text-anchor="middle" stroke="#66729d" stroke-width="0.15">51</text>
<text transform="translate(885.95,294.50) scale(0.78,1)" font-size="8" fill="#66729d" text-anchor="middle" stroke="#66729d" stroke-width="0.15">51</text>
<text transform="translate(900.70,294.50) scale(0.78,1)" font-size="8" fill="#66729d" text-anchor="middle" stroke="#66729d" stroke-width="0.15">39</text>
<text transform="translate(915.45,294.50) scale(0.78,1)" font-size="8" fill="#66729d" text-anchor="middle" stroke="#66729d" stroke-width="0.15">38</text>
<text transform="translate(930.20,294.50) scale(0.78,1)" font-size="8" fill="#66729d" text-anchor="middle" stroke="#66729d" stroke-width="0.15">38</text>
<text transform="translate(944.95,294.50) scale(0.78,1)" font-size="8" fill="#66729d" text-anchor="middle" stroke="#66729d" stroke-width="0.15">27</text>
<text transform="translate(959.70,294.50) scale(0.78,1)" font-size="8" fill="#66729d" text-anchor="middle" stroke="#66729d" stroke-width="0.15">20</text>
<text transform="translate(974.45,294.50) scale(0.78,1)" font-size="8" fill="#66729d" text-anchor="middle" stroke="#66729d" stroke-width="0.15">16</text>
<text transform="translate(989.20,294.50) scale(0.78,1)" font-size="8" fill="#66729d" text-anchor="middle" stroke="#66729d" stroke-width="0.15">14</text>
<text transform="translate(1003.95,294.50) scale(0.78,1)" font-size="8" fill="#66729d" text-anchor="middle" stroke="#66729d" stroke-width="0.15">11</text>
<text transform="translate(1018.70,294.50) scale(0.78,1)" font-size="8" fill="#66729d" text-anchor="middle" stroke="#66729d" stroke-width="0.15">4</text>
<text transform="translate(1033.45,294.50) scale(0.78,1)" font-size="8" fill="#66729d" text-anchor="middle" stroke="#66729d" stroke-width="0.15">2</text>
<text transform="translate(1048.20,294.50) scale(0.78,1)" font-size="8" fill="#66729d" text-anchor="middle" stroke="#66729d" stroke-width="0.15">1</text>
<text transform="translate(1062.95,294.50) scale(0.78,1)" font-size="8" fill="#66729d" text-anchor="middle" stroke="#66729d" stroke-width="0.15">0</text>
<text transform="translate(605.70,308.00) scale(0.78,1)" font-size="8" fill="#a86355" text-anchor="middle" stroke="#a86355" stroke-width="0.15">93</text>
<text transform="translate(620.45,308.00) scale(0.78,1)" font-size="8" fill="#a86355" text-anchor="middle" stroke="#a86355" stroke-width="0.15">90</text>
<text transform="translate(635.20,308.00) scale(0.78,1)" font-size="8" fill="#a86355" text-anchor="middle" stroke="#a86355" stroke-width="0.15">90</text>
<text transform="translate(649.95,308.00) scale(0.78,1)" font-size="8" fill="#a86355" text-anchor="middle" stroke="#a86355" stroke-width="0.15">74</text>
<text transform="translate(664.70,308.00) scale(0.78,1)" font-size="8" fill="#a86355" text-anchor="middle" stroke="#a86355" stroke-width="0.15">70</text>
<text transform="translate(679.45,308.00) scale(0.78,1)" font-size="8" fill="#a86355" text-anchor="middle" stroke="#a86355" stroke-width="0.15">67</text>
<text transform="translate(694.20,308.00) scale(0.78,1)" font-size="8" fill="#a86355" text-anchor="middle" stroke="#a86355" stroke-width="0.15">51</text>
<text transform="translate(708.95,308.00) scale(0.78,1)" font-size="8" fill="#a86355" text-anchor="middle" stroke="#a86355" stroke-width="0.15">50</text>
<text transform="translate(723.70,308.00) scale(0.78,1)" font-size="8" fill="#a86355" text-anchor="middle" stroke="#a86355" stroke-width="0.15">50</text>
<text transform="translate(738.45,308.00) scale(0.78,1)" font-size="8" fill="#a86355" text-anchor="middle" stroke="#a86355" stroke-width="0.15">43</text>
<text transform="translate(753.20,308.00) scale(0.78,1)" font-size="8" fill="#a86355" text-anchor="middle" stroke="#a86355" stroke-width="0.15">43</text>
<text transform="translate(767.95,308.00) scale(0.78,1)" font-size="8" fill="#a86355" text-anchor="middle" stroke="#a86355" stroke-width="0.15">43</text>
<text transform="translate(782.70,308.00) scale(0.78,1)" font-size="8" fill="#a86355" text-anchor="middle" stroke="#a86355" stroke-width="0.15">39</text>
<text transform="translate(797.45,308.00) scale(0.78,1)" font-size="8" fill="#a86355" text-anchor="middle" stroke="#a86355" stroke-width="0.15">39</text>
<text transform="translate(812.20,308.00) scale(0.78,1)" font-size="8" fill="#a86355" text-anchor="middle" stroke="#a86355" stroke-width="0.15">29</text>
<text transform="translate(826.95,308.00) scale(0.78,1)" font-size="8" fill="#a86355" text-anchor="middle" stroke="#a86355" stroke-width="0.15">26</text>
<text transform="translate(841.70,308.00) scale(0.78,1)" font-size="8" fill="#a86355" text-anchor="middle" stroke="#a86355" stroke-width="0.15">26</text>
<text transform="translate(856.45,308.00) scale(0.78,1)" font-size="8" fill="#a86355" text-anchor="middle" stroke="#a86355" stroke-width="0.15">18</text>
<text transform="translate(871.20,308.00) scale(0.78,1)" font-size="8" fill="#a86355" text-anchor="middle" stroke="#a86355" stroke-width="0.15">17</text>
<text transform="translate(885.95,308.00) scale(0.78,1)" font-size="8" fill="#a86355" text-anchor="middle" stroke="#a86355" stroke-width="0.15">17</text>
<text transform="translate(900.70,308.00) scale(0.78,1)" font-size="8" fill="#a86355" text-anchor="middle" stroke="#a86355" stroke-width="0.15">9</text>
<text transform="translate(915.45,308.00) scale(0.78,1)" font-size="8" fill="#a86355" text-anchor="middle" stroke="#a86355" stroke-width="0.15">9</text>
<text transform="translate(930.20,308.00) scale(0.78,1)" font-size="8" fill="#a86355" text-anchor="middle" stroke="#a86355" stroke-width="0.15">9</text>
<text transform="translate(944.95,308.00) scale(0.78,1)" font-size="8" fill="#a86355" text-anchor="middle" stroke="#a86355" stroke-width="0.15">6</text>
<text transform="translate(959.70,308.00) scale(0.78,1)" font-size="8" fill="#a86355" text-anchor="middle" stroke="#a86355" stroke-width="0.15">3</text>
<text transform="translate(974.45,308.00) scale(0.78,1)" font-size="8" fill="#a86355" text-anchor="middle" stroke="#a86355" stroke-width="0.15">3</text>
<text transform="translate(989.20,308.00) scale(0.78,1)" font-size="8" fill="#a86355" text-anchor="middle" stroke="#a86355" stroke-width="0.15">2</text>
<text transform="translate(1003.95,308.00) scale(0.78,1)" font-size="8" fill="#a86355" text-anchor="middle" stroke="#a86355" stroke-width="0.15">1</text>
<text transform="translate(1018.70,308.00) scale(0.78,1)" font-size="8" fill="#a86355" text-anchor="middle" stroke="#a86355" stroke-width="0.15">1</text>
<text transform="translate(1033.45,308.00) scale(0.78,1)" font-size="8" fill="#a86355" text-anchor="middle" stroke="#a86355" stroke-width="0.15">1</text>
<text transform="translate(1048.20,308.00) scale(0.78,1)" font-size="8" fill="#a86355" text-anchor="middle" stroke="#a86355" stroke-width="0.15">0</text>
<text x="720.20" y="31.80" font-size="26" fill="#000" font-weight="bold" >g</text>
<text x="730.00" y="31.80" font-size="26" fill="#000" font-weight="bold" font-style="italic" >BRCA1/2</text>
<text x="834" y="31.8" font-size="25" fill="#000" font-weight="bold" font-style="italic" textLength="77" lengthAdjust="spacingAndGlyphs" style="font-family:'Liberation Sans','Noto Sans CJK SC',sans-serif">野生型</text>
<text x="920.30" y="87.80" font-size="8.6" fill="#111" font-weight="bold" textLength="111" lengthAdjust="spacingAndGlyphs" >HR, 0.53 (95% CI, 0.37-0.75);</text>
<text x="920.3" y="97.6" font-size="8.9" fill="#111" font-weight="bold" textLength="80.5" lengthAdjust="spacingAndGlyphs" style="font-family:'Liberation Serif','Noto Serif CJK SC',serif">单侧分层对数秩检验</text>
<text x="1003.63" y="97.60" font-size="8.6" fill="#111" font-weight="bold" textLength="30" lengthAdjust="spacingAndGlyphs" >P=.0001</text>
<text x="556" y="123.1" font-size="9.9" fill="#0a0a0a" style="font-family:'Liberation Sans','Noto Sans CJK SC',sans-serif">无</text>
<text x="556" y="133.1" font-size="9.9" fill="#0a0a0a" style="font-family:'Liberation Sans','Noto Sans CJK SC',sans-serif">进</text>
<text x="556" y="143.1" font-size="9.9" fill="#0a0a0a" style="font-family:'Liberation Sans','Noto Sans CJK SC',sans-serif">展</text>
<text x="556" y="153" font-size="9.9" fill="#0a0a0a" style="font-family:'Liberation Sans','Noto Sans CJK SC',sans-serif">生</text>
<text x="556" y="163" font-size="9.9" fill="#0a0a0a" style="font-family:'Liberation Sans','Noto Sans CJK SC',sans-serif">存</text>
<text x="556" y="173" font-size="9.9" fill="#0a0a0a" style="font-family:'Liberation Sans','Noto Sans CJK SC',sans-serif">期</text>
<text transform="translate(556.90,174.00) rotate(90)" font-size="10" fill="#111" style="font-family:'Liberation Sans','Noto Sans CJK SC',sans-serif">（</text>
<text transform="translate(557.00,184.30) rotate(90)" font-size="9.9" fill="#111" stroke="#111" stroke-width="0.25" style="font-family:'Liberation Sans',sans-serif">%</text>
<text transform="translate(556.90,192.30) rotate(90)" font-size="10" fill="#111" style="font-family:'Liberation Sans','Noto Sans CJK SC',sans-serif">）</text>
<text x="776.3" y="278.1" font-size="8.8" fill="#111" textLength="79.2" lengthAdjust="spacingAndGlyphs" style="font-family:'Liberation Sans','Noto Sans CJK SC',sans-serif">至随机的时间（月）</text>
<text x="560.7" y="280.9" font-size="6" fill="#000" font-weight="bold" style="font-family:'Liberation Serif','Noto Serif CJK SC',serif">风险人数</text>
<text x="560.7" y="292.3" font-size="6.1" fill="#2020e0" font-weight="bold" style="font-family:'Liberation Serif','Noto Serif CJK SC',serif">氟唑帕利组</text>
<text x="560.7" y="306" font-size="6" fill="#d02020" font-weight="bold" style="font-family:'Liberation Serif','Noto Serif CJK SC',serif">安慰剂组</text>
<rect x="561" y="332" width="188.60" height="33.9" fill="#4472c4"/>
<rect x="561" y="369.8" width="188.60" height="33.7" fill="#cfd5ea"/>
<rect x="751.1" y="332" width="170.00" height="33.9" fill="#4472c4"/>
<rect x="751.1" y="369.8" width="170.00" height="33.7" fill="#cfd5ea"/>
<rect x="922.7" y="332" width="153.70" height="33.9" fill="#4472c4"/>
<rect x="922.7" y="369.8" width="153.70" height="33.7" fill="#cfd5ea"/>
<text x="570.6" y="391.6" font-size="14" fill="#111" style="font-family:'Liberation Sans','Noto Sans CJK SC',sans-serif">中位</text>
<text x="599.30" y="391.60" font-size="15" fill="#0a0a0a" >PFS (95% CI)</text>
<text x="684.4" y="391.6" font-size="14" fill="#111" style="font-family:'Liberation Sans','Noto Sans CJK SC',sans-serif">（月）</text>
<text x="762.8" y="349.8" font-size="15.3" fill="#fff" font-weight="bold" style="font-family:'Liberation Sans','Noto Sans CJK SC',sans-serif">氟唑帕利组（</text>
<text x="855.30" y="349.80" font-size="15" fill="#fff" font-weight="bold" >n=185</text>
<text x="895.2" y="349.8" font-size="15.3" fill="#fff" font-weight="bold" style="font-family:'Liberation Sans','Noto Sans CJK SC',sans-serif">）</text>
<text x="937.5" y="349.8" font-size="15.3" fill="#fff" font-weight="bold" style="font-family:'Liberation Sans','Noto Sans CJK SC',sans-serif">安慰剂组（</text>
<text x="1014.40" y="349.80" font-size="15" fill="#fff" font-weight="bold" >n=93</text>
<text x="1047.2" y="349.8" font-size="15.3" fill="#fff" font-weight="bold" style="font-family:'Liberation Sans','Noto Sans CJK SC',sans-serif">）</text>
<text x="836.10" y="391.60" font-size="15" fill="#0a0a0a" text-anchor="middle" >25.5 (16.6-NR)</text>
<text x="999.55" y="391.60" font-size="15" fill="#0a0a0a" text-anchor="middle" >8.4 (5.6-16.6)</text>
</svg>
</body></html>
